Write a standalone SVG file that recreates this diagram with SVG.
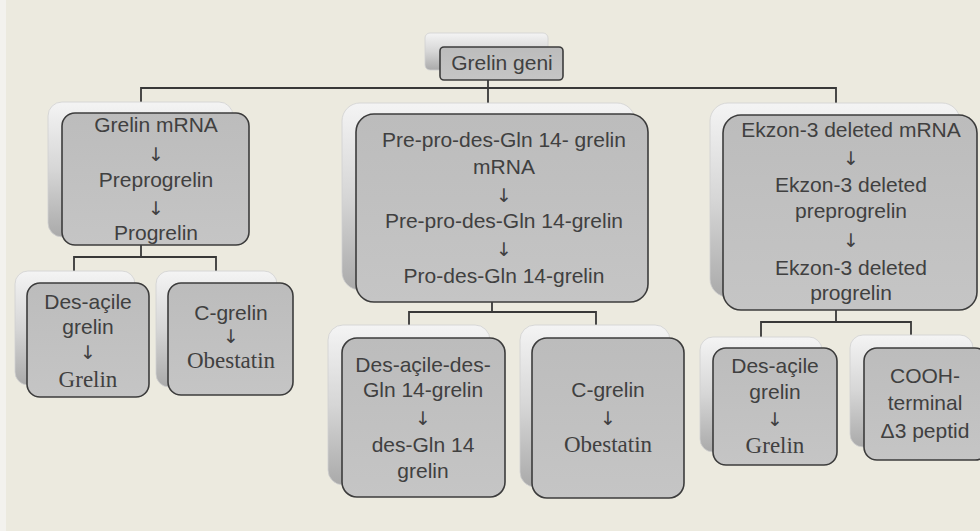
<svg xmlns="http://www.w3.org/2000/svg" width="980" height="531" viewBox="0 0 980 531">
<defs>
<linearGradient id="backGrad" x1="0" y1="0" x2="0" y2="1">
<stop offset="0" stop-color="#F4F4F4"/>
<stop offset="0.5" stop-color="#D6D6D6"/>
<stop offset="1" stop-color="#AAAAAA"/>
</linearGradient>
<linearGradient id="mainGrad" x1="0" y1="0" x2="0" y2="1">
<stop offset="0" stop-color="#BCBCBC"/>
<stop offset="1" stop-color="#C5C5C5"/>
</linearGradient>
</defs>
<style>
.back{fill:url(#backGrad);stroke:#D0D0D0;stroke-width:0.8}
.main{fill:url(#mainGrad);stroke:#3C3C3C;stroke-width:1.6}
.t{font-family:"Liberation Sans",Arial,sans-serif;font-size:21px;fill:#404040;text-anchor:middle}
.s{font-family:"Liberation Serif","Times New Roman",serif;font-size:23px;fill:#404040;text-anchor:middle}
.a{font-family:"DejaVu Sans",sans-serif;font-size:19px;fill:#404040;text-anchor:middle}
.c{fill:none;stroke:#383838;stroke-width:1.8}
</style>
<rect x="0" y="0" width="980" height="531" fill="#ECEADF"/>
<rect x="0" y="0" width="6" height="531" fill="#F3F2EE"/>

<g id="connectors">
<polyline class="c" points="488,80 488,88"/>
<polyline class="c" points="141,103 141,88 836,88 836,103"/>
<polyline class="c" points="488,88 488,103"/>
<polyline class="c" points="141,245 141,257"/>
<polyline class="c" points="74,271 74,257 216,257 216,271"/>
<polyline class="c" points="492,302 492,312"/>
<polyline class="c" points="409,325 409,312 596,312 596,325"/>
<polyline class="c" points="836,310 836,322"/>
<polyline class="c" points="761,337 761,322 911,322 911,335"/>
</g>

<g id="grelin-geni">
<rect class="back" x="425" y="33" width="123" height="37" rx="5"/>
<rect class="main" x="440" y="47" width="123" height="33" rx="4"/>
<text class="t" x="502" y="70">Grelin geni</text>
</g>

<g id="grelin-mrna">
<rect class="back" x="48" y="102" width="185" height="135" rx="14"/>
<rect class="main" x="62" y="113" width="187" height="132" rx="13"/>
<text class="t" x="156" y="132">Grelin mRNA</text>
<text class="a" x="156" y="161">↓</text>
<text class="t" x="156" y="187">Preprogrelin</text>
<text class="a" x="156" y="215">↓</text>
<text class="t" x="156" y="240">Progrelin</text>
</g>

<g id="pre-pro-des-gln">
<rect class="back" x="342" y="103" width="293" height="187" rx="18"/>
<rect class="main" x="356" y="114" width="292" height="188" rx="18"/>
<text class="t" x="504" y="147">Pre-pro-des-Gln 14- grelin</text>
<text class="t" x="504" y="174">mRNA</text>
<text class="a" x="504" y="202">↓</text>
<text class="t" x="504" y="228">Pre-pro-des-Gln 14-grelin</text>
<text class="a" x="504" y="256">↓</text>
<text class="t" x="504" y="283">Pro-des-Gln 14-grelin</text>
</g>

<g id="ekzon-3">
<rect class="back" x="710" y="103" width="250" height="194" rx="18"/>
<rect class="main" x="723" y="115" width="254" height="195" rx="18"/>
<text class="t" x="851" y="137">Ekzon-3 deleted  mRNA</text>
<text class="a" x="851" y="165">↓</text>
<text class="t" x="851" y="192">Ekzon-3 deleted</text>
<text class="t" x="851" y="218">preprogrelin</text>
<text class="a" x="851" y="247">↓</text>
<text class="t" x="851" y="275">Ekzon-3 deleted</text>
<text class="t" x="851" y="300">progrelin</text>
</g>

<g id="des-acile-grelin-1">
<rect class="back" x="15" y="271" width="120" height="114" rx="13"/>
<rect class="main" x="27" y="283" width="122" height="114" rx="13"/>
<text class="t" x="88" y="309">Des-açile</text>
<text class="t" x="88" y="334">grelin</text>
<text class="a" x="88" y="359">↓</text>
<text class="s" x="88" y="387">Grelin</text>
</g>

<g id="c-grelin-1">
<rect class="back" x="156" y="271" width="121" height="116" rx="13"/>
<rect class="main" x="168" y="283" width="125" height="112" rx="13"/>
<text class="t" x="231" y="320">C-grelin</text>
<text class="a" x="231" y="343" font-size="18">↓</text>
<text class="s" x="231" y="368" font-size="22">Obestatin</text>
</g>

<g id="des-acile-des-gln">
<rect class="back" x="328" y="325" width="162" height="160" rx="15"/>
<rect class="main" x="342" y="338" width="163" height="159" rx="15"/>
<text class="t" x="423" y="372">Des-açile-des-</text>
<text class="t" x="423" y="397">Gln 14-grelin</text>
<text class="a" x="423" y="425">↓</text>
<text class="t" x="423" y="452">des-Gln 14</text>
<text class="t" x="423" y="478">grelin</text>
</g>

<g id="c-grelin-2">
<rect class="back" x="520" y="325" width="150" height="162" rx="15"/>
<rect class="main" x="532" y="338" width="152" height="160" rx="15"/>
<text class="t" x="608" y="397">C-grelin</text>
<text class="a" x="608" y="425">↓</text>
<text class="s" x="608" y="452">Obestatin</text>
</g>

<g id="des-acile-grelin-2">
<rect class="back" x="700" y="337" width="122" height="115" rx="13"/>
<rect class="main" x="713" y="348" width="124" height="117" rx="13"/>
<text class="t" x="775" y="373">Des-açile</text>
<text class="t" x="775" y="399">grelin</text>
<text class="a" x="775" y="426">↓</text>
<text class="s" x="775" y="453">Grelin</text>
</g>

<g id="cooh-terminal">
<rect class="back" x="850" y="335" width="123" height="112" rx="13"/>
<rect class="main" x="864" y="348" width="124" height="112" rx="13"/>
<text class="t" x="925" y="383">COOH-</text>
<text class="t" x="925" y="410">terminal</text>
<text class="t" x="925" y="438">Δ3 peptid</text>
</g>
</svg>
